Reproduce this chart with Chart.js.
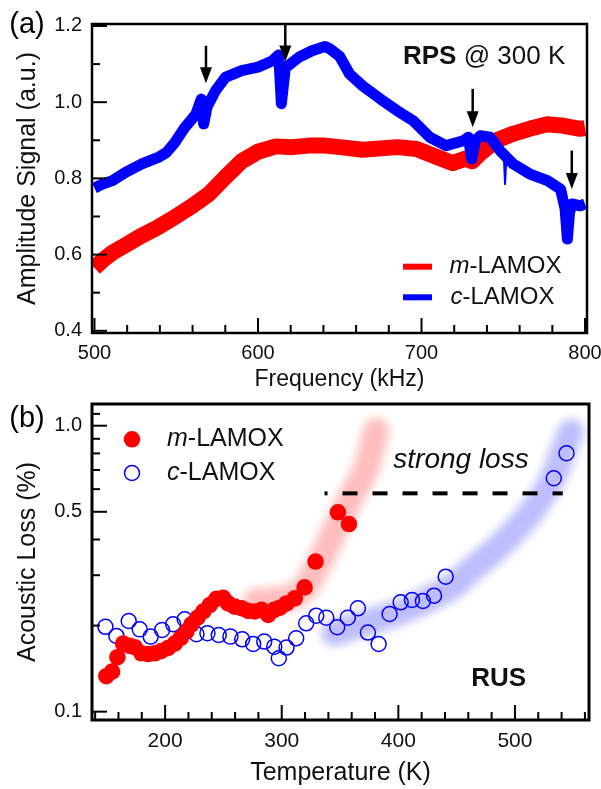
<!DOCTYPE html>
<html>
<head>
<meta charset="utf-8">
<script src="https://cdn.jsdelivr.net/npm/chart.js@4.4.1/dist/chart.umd.min.js"></script>
<style>
html, body { margin: 0; padding: 0; background: #fff; }
#wrapA { position: absolute; left: 0; top: 0; width: 601px; height: 392px; }
#wrapB { position: absolute; left: 0; top: 392px; width: 601px; height: 397px; }
</style>
</head>
<body>
<div id="wrapA"><canvas id="chartA" width="601" height="392"></canvas></div>
<div id="wrapB"><canvas id="chartB" width="601" height="397"></canvas></div>
<script>
// ---- panel (a) : RPS spectra at 300 K ----
const freqM = [500, 505, 511, 519, 529, 539, 549, 560, 570, 580, 590, 600, 611, 621, 631, 641, 650, 664, 685, 697, 709, 719, 727, 731, 736, 746, 756, 766, 777, 787, 797, 800];
const ampM = [0.565, 0.585, 0.605, 0.625, 0.65, 0.672, 0.698, 0.728, 0.759, 0.803, 0.845, 0.87, 0.884, 0.882, 0.886, 0.886, 0.882, 0.875, 0.882, 0.877, 0.857, 0.84, 0.852, 0.845, 0.866, 0.9, 0.917, 0.93, 0.942, 0.938, 0.93, 0.932];

const freqC = [500, 505, 511, 519, 529, 539, 544, 549, 555, 562, 565.3, 566.8, 568.8, 574, 580, 590, 600, 608.6, 612.7, 614.3, 616.7, 625, 633, 641, 644, 650, 656, 664, 675, 685, 695, 705, 715, 725.6, 728.6, 730.7, 733, 736, 742, 748, 751, 756, 766, 777, 785, 787.8, 789.2, 790.5, 792, 797, 800];
const ampC = [0.775, 0.785, 0.794, 0.816, 0.838, 0.855, 0.868, 0.893, 0.932, 0.968, 1.008, 0.943, 0.987, 1.03, 1.065, 1.083, 1.092, 1.108, 1.124, 0.996, 1.09, 1.118, 1.135, 1.146, 1.14, 1.12, 1.074, 1.043, 1.008, 0.978, 0.951, 0.908, 0.886, 0.899, 0.908, 0.851, 0.9, 0.912, 0.908, 0.873, 0.86, 0.838, 0.812, 0.794, 0.772, 0.72, 0.641, 0.71, 0.733, 0.728, 0.733];

// thin glitch in the c-LAMOX trace
const spikeFreqC = [750.3, 751.1, 751.9];
const spikeAmpC = [0.862, 0.785, 0.857];

// arrows marking the dips
const arrowFreq = [568.2, 616.7, 731.3, 791.9];
const arrowTop = [1.148, 1.205, 1.035, 0.873];
const arrowTip = [1.05, 1.107, 0.934, 0.772];

const xTicksA = [500, 600, 700, 800];
const xMinorA = [520, 540, 560, 580, 620, 640, 660, 680, 720, 740, 760, 780];
const yTicksA = [0.4, 0.6, 0.8, 1.0, 1.2];
const yMinorA = [0.5, 0.7, 0.9, 1.1];

// ---- panel (b) : RUS acoustic loss ----
const tempM = [149.6, 154.5, 159.1, 164, 169.6, 173.9, 179.7, 185.4, 191.1, 196.8, 202.6, 208.2, 213.4, 218.3, 222.6, 227.7, 232.6, 238.3, 244, 249.8, 254.1, 259.7, 265.5, 271.2, 276.9, 282.7, 288.4, 293.6, 298.4, 304.1, 311.2, 319.6, 329, 348.2, 357.6];
const lossM = [0.133, 0.138, 0.155, 0.173, 0.170, 0.168, 0.160, 0.159, 0.160, 0.163, 0.167, 0.173, 0.181, 0.191, 0.202, 0.213, 0.224, 0.236, 0.248, 0.250, 0.239, 0.233, 0.230, 0.225, 0.224, 0.227, 0.218, 0.227, 0.231, 0.239, 0.249, 0.272, 0.335, 0.498, 0.453];

const tempC = [148.8, 158.2, 168.8, 178.2, 187.6, 197.4, 206.9, 216.8, 226.9, 236.3, 246, 256, 266.1, 275.5, 285, 293.6, 297.5, 304.1, 312.4, 321, 329.6, 338.2, 347.6, 356.7, 365.3, 373.9, 383.1, 392.5, 402, 411.7, 421.1, 430.6, 440.6, 533.3, 544.2];
const lossC = [0.198, 0.184, 0.2075, 0.194, 0.183, 0.193, 0.202, 0.2105, 0.1865, 0.188, 0.1854, 0.183, 0.179, 0.1725, 0.1758, 0.1688, 0.1537, 0.1675, 0.1805, 0.2037, 0.2166, 0.2132, 0.1973, 0.2132, 0.2298, 0.189, 0.1724, 0.2196, 0.2412, 0.2458, 0.2438, 0.2544, 0.2965, 0.655, 0.801];

// blurred guide-to-the-eye bands
const bandTempM = [278, 292, 305, 318, 332, 347, 361, 372, 381];
const bandLossM = [0.243, 0.245, 0.25, 0.265, 0.33, 0.443, 0.58, 0.70, 0.96];
const bandTempC = [345, 360, 385, 405, 430, 447, 461, 475, 487, 500, 515, 533, 544, 548];
const bandLossC = [0.188, 0.197, 0.212, 0.226, 0.252, 0.275, 0.31, 0.345, 0.38, 0.43, 0.507, 0.663, 0.87, 0.95];

// "strong loss" threshold
const strongTemp = [336.7, 541];
const strongLoss = [0.58, 0.58];

const xTicksB = [200, 300, 400, 500];
const xMinorB = [140, 160, 180, 220, 240, 260, 280, 320, 340, 360, 380, 420, 440, 460, 480, 520, 540, 560];
const yTicksB = [0.1, 0.5, 1.0];
const yMinorB = [0.2, 0.3, 0.4, 0.6, 0.7, 0.8, 0.9, 1.1];

const FONT = 'Liberation Sans, Arial, Helvetica, sans-serif';
Chart.defaults.font.family = FONT;
Chart.defaults.color = '#111';

function toXY(xs, ys) {
    return xs.map((x, i) => ({ x: x, y: ys[i] }));
}

// text made of several styled pieces, left aligned, vertically centred
function richText(ctx, parts, x, y) {
    ctx.textBaseline = 'middle';
    ctx.textAlign = 'left';
    parts.forEach(p => {
        ctx.font = p[1];
        ctx.fillText(p[0], x, y);
        x += ctx.measureText(p[0]).width;
    });
}

// frame + inward tick marks
const framePlugin = {
    id: 'frame',
    afterDraw(chart, args, opts) {
        const ctx = chart.ctx;
        const a = chart.chartArea;
        const x = chart.scales.x, y = chart.scales.y;
        ctx.save();
        ctx.strokeStyle = '#000';
        ctx.lineWidth = opts.tickWidth;
        const xt = (vals, len) => vals.forEach(v => {
            const px = x.getPixelForValue(v);
            ctx.beginPath(); ctx.moveTo(px, a.bottom); ctx.lineTo(px, a.bottom - len); ctx.stroke();
        });
        const yt = (vals, len) => vals.forEach(v => {
            const py = y.getPixelForValue(v);
            ctx.beginPath(); ctx.moveTo(a.left, py); ctx.lineTo(a.left + len, py); ctx.stroke();
        });
        xt(opts.xMajor, 15); xt(opts.xMinor, 8);
        yt(opts.yMajor, 15); yt(opts.yMinor, 8);
        ctx.lineWidth = opts.frameWidth;
        ctx.strokeRect(a.left, a.top, a.right - a.left, a.bottom - a.top);
        ctx.restore();
    }
};

// canvas blur for the guide bands
const blurPlugin = {
    id: 'blurBands',
    beforeDatasetDraw(chart, args) {
        const ds = chart.data.datasets[args.index];
        if (ds.blur) {
            chart.ctx.save();
            chart.ctx.filter = 'blur(' + ds.blur + 'px)';
        }
    },
    afterDatasetDraw(chart, args) {
        const ds = chart.data.datasets[args.index];
        if (ds.blur) chart.ctx.restore();
    }
};

const annotA = {
    id: 'annotA',
    afterDraw(chart) {
        const ctx = chart.ctx;
        const x = chart.scales.x, y = chart.scales.y;
        ctx.save();
        ctx.fillStyle = '#000';
        ctx.strokeStyle = '#000';
        // arrows
        arrowFreq.forEach((f, i) => {
            const px = x.getPixelForValue(f);
            const top = y.getPixelForValue(arrowTop[i]);
            const tip = y.getPixelForValue(arrowTip[i]);
            ctx.lineWidth = 2.5;
            ctx.beginPath(); ctx.moveTo(px, top); ctx.lineTo(px, tip - 12); ctx.stroke();
            ctx.beginPath();
            ctx.moveTo(px - 6, tip - 16); ctx.lineTo(px + 6, tip - 16); ctx.lineTo(px, tip);
            ctx.closePath(); ctx.fill();
        });
        // panel label
        ctx.font = '29px ' + FONT;
        ctx.textAlign = 'center'; ctx.textBaseline = 'middle';
        ctx.fillText('(a)', 27, 25);
        ctx.fillStyle = '#111';
        richText(ctx, [['RPS', 'bold 26px ' + FONT], [' @ 300 K', '26px ' + FONT]], 403, 57);
        // legend
        ctx.lineWidth = 6;
        ctx.strokeStyle = '#ff0000';
        ctx.beginPath(); ctx.moveTo(403, 266.7); ctx.lineTo(432, 266.7); ctx.stroke();
        ctx.strokeStyle = '#0000ff';
        ctx.beginPath(); ctx.moveTo(403, 297.3); ctx.lineTo(432, 297.3); ctx.stroke();
        richText(ctx, [['m', 'italic 24px ' + FONT], ['-LAMOX', '24px ' + FONT]], 449.5, 266.7);
        richText(ctx, [['c', 'italic 24px ' + FONT], ['-LAMOX', '24px ' + FONT]], 450.5, 297.3);
        ctx.restore();
    }
};

const annotB = {
    id: 'annotB',
    afterDraw(chart) {
        const ctx = chart.ctx;
        ctx.save();
        ctx.fillStyle = '#000';
        ctx.font = '29px ' + FONT;
        ctx.textAlign = 'center'; ctx.textBaseline = 'middle';
        ctx.fillText('(b)', 27, 27);
        ctx.fillStyle = '#111';
        ctx.font = 'italic 28px ' + FONT;
        ctx.fillText('strong loss', 461, 68);
        ctx.font = 'bold 26px ' + FONT;
        ctx.fillText('RUS', 498.7, 287);
        // legend
        ctx.fillStyle = '#ff0000';
        ctx.beginPath(); ctx.arc(132, 47.3, 8.3, 0, Math.PI * 2); ctx.fill();
        ctx.strokeStyle = '#0000ff'; ctx.lineWidth = 1.5;
        ctx.beginPath(); ctx.arc(132, 81, 7.5, 0, Math.PI * 2); ctx.stroke();
        ctx.fillStyle = '#111';
        richText(ctx, [['m', 'italic 25px ' + FONT], ['-LAMOX', '25px ' + FONT]], 167, 47.3);
        richText(ctx, [['c', 'italic 25px ' + FONT], ['-LAMOX', '25px ' + FONT]], 167, 81);
        ctx.restore();
    }
};

function noPad(s) {
    s.paddingLeft = 0; s.paddingRight = 0; s.paddingTop = 0; s.paddingBottom = 0;
}

// ---------- chart (a) ----------
new Chart(document.getElementById('chartA'), {
    type: 'line',
    data: {
        datasets: [
            { data: toXY(freqM, ampM), borderColor: '#ff0000', borderWidth: 16, order: 2 },
            { data: toXY(freqC, ampC), borderColor: '#0000ff', borderWidth: 11, order: 1 },
            { data: toXY(spikeFreqC, spikeAmpC), borderColor: '#0000ff', borderWidth: 2, order: 0 }
        ]
    },
    options: {
        responsive: false,
        animation: false,
        events: [],
        layout: { padding: { top: 24, right: 14, left: 0, bottom: 0 } },
        elements: {
            point: { radius: 0 },
            line: { borderJoinStyle: 'round', borderCapStyle: 'butt', tension: 0 }
        },
        plugins: {
            legend: { display: false },
            tooltip: { enabled: false },
            frame: { xMajor: xTicksA, xMinor: xMinorA, yMajor: yTicksA, yMinor: yMinorA, tickWidth: 2, frameWidth: 2.5 }
        },
        scales: {
            x: {
                type: 'linear', min: 498.5, max: 801.2,
                grid: { display: false, drawTicks: false },
                border: { display: false },
                afterBuildTicks: s => { s.ticks = xTicksA.map(v => ({ value: v })); },
                afterFit: s => { s.height = 59; noPad(s); },
                ticks: { padding: 8, font: { size: 20 }, maxRotation: 0, callback: v => String(v) },
                title: { display: true, text: 'Frequency (kHz)', font: { size: 23, lineHeight: 1 }, padding: { top: 0, bottom: 0.5 } }
            },
            y: {
                type: 'linear', min: 0.3942, max: 1.2052,
                grid: { display: false, drawTicks: false },
                border: { display: false },
                afterBuildTicks: s => { s.ticks = yTicksA.map(v => ({ value: v })); },
                afterFit: s => { s.width = 92; noPad(s); },
                ticks: { padding: 10, font: { size: 20 }, callback: v => v.toFixed(1) },
                title: { display: true, text: 'Amplitude Signal (a.u.)', font: { size: 25, lineHeight: 1 }, padding: { top: 15.5, bottom: 0 } }
            }
        }
    },
    plugins: [framePlugin, annotA]
});

// ---------- chart (b) ----------
new Chart(document.getElementById('chartB'), {
    type: 'line',
    data: {
        datasets: [
            { data: toXY(bandTempM, bandLossM), borderColor: 'rgba(255,0,0,0.26)', borderWidth: 26, blur: 5, tension: 0.4, cubicInterpolationMode: 'monotone', borderCapStyle: 'round', order: 6 },
            { data: toXY(bandTempC, bandLossC), borderColor: 'rgba(0,0,255,0.26)', borderWidth: 26, blur: 5, tension: 0.4, cubicInterpolationMode: 'monotone', borderCapStyle: 'round', order: 5 },
            { data: toXY(strongTemp, strongLoss), borderColor: '#000', borderWidth: 4, borderDash: [15, 15], borderDashOffset: 12, order: 3 },
            { data: toXY(tempC, lossC), showLine: false, pointRadius: 7.5, pointBorderWidth: 1.5, pointBorderColor: '#0000ff', pointBackgroundColor: 'rgba(0,0,0,0)', order: 2 },
            { data: toXY(tempM, lossM), showLine: false, pointRadius: 8.3, pointBorderWidth: 0, pointBackgroundColor: '#ff0000', pointBorderColor: '#ff0000', order: 1 }
        ]
    },
    options: {
        responsive: false,
        animation: false,
        events: [],
        layout: { padding: { top: 12, right: 12, left: 0, bottom: 0 } },
        elements: {
            point: { radius: 0 },
            line: { borderJoinStyle: 'round', borderCapStyle: 'butt', tension: 0 }
        },
        plugins: {
            legend: { display: false },
            tooltip: { enabled: false },
            frame: { xMajor: xTicksB, xMinor: xMinorB, yMajor: yTicksB, yMinor: yMinorB, tickWidth: 2, frameWidth: 3 }
        },
        scales: {
            x: {
                type: 'linear', min: 137.3, max: 563.5,
                grid: { display: false, drawTicks: false },
                border: { display: false },
                afterBuildTicks: s => { s.ticks = xTicksB.map(v => ({ value: v })); },
                afterFit: s => { s.height = 69; noPad(s); },
                ticks: { padding: 9, font: { size: 21 }, maxRotation: 0, callback: v => String(v) },
                title: { display: true, text: 'Temperature (K)', font: { size: 25, lineHeight: 1 }, padding: { top: 0, bottom: 3.5 } }
            },
            y: {
                type: 'logarithmic', min: 0.0935, max: 1.191,
                grid: { display: false, drawTicks: false },
                border: { display: false },
                afterBuildTicks: s => { s.ticks = yTicksB.map(v => ({ value: v })); },
                afterFit: s => { s.width = 92; noPad(s); },
                ticks: { padding: 10, font: { size: 20 }, callback: v => Number(v).toFixed(1) },
                title: { display: true, text: 'Acoustic Loss (%)', font: { size: 25, lineHeight: 1 }, padding: { top: 15.5, bottom: 0 } }
            }
        }
    },
    plugins: [blurPlugin, framePlugin, annotB]
});
</script>
</body>
</html>
